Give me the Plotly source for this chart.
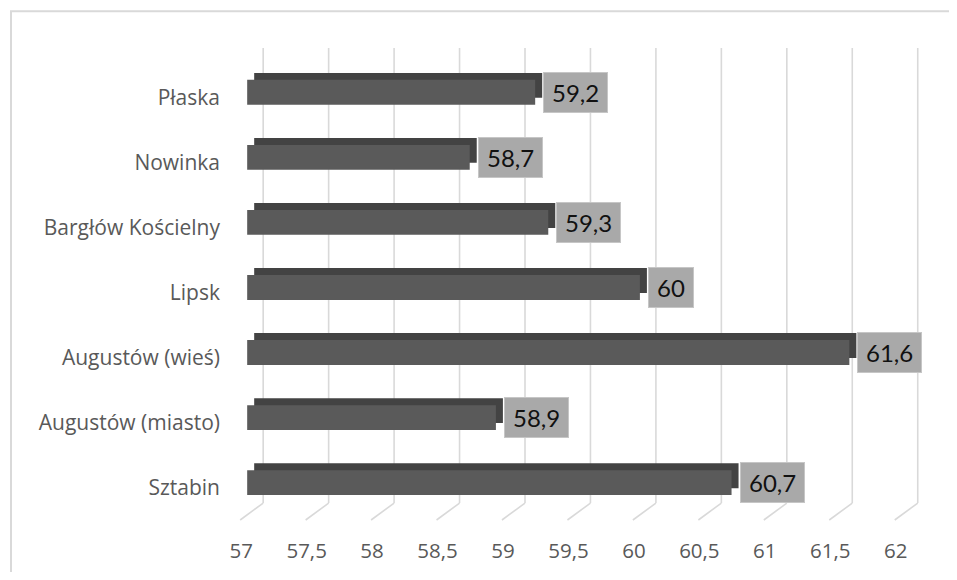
import plotly.graph_objects as go

categories = ["Sztabin", "Augustów (miasto)", "Augustów (wieś)", "Lipsk",
              "Bargłów Kościelny", "Nowinka", "Płaska"]
values = [60.7, 58.9, 61.6, 60.0, 59.3, 58.7, 59.2]
tick_vals = [57, 57.5, 58, 58.5, 59, 59.5, 60, 60.5, 61, 61.5, 62]
tick_text = ["57", "57,5", "58", "58,5", "59", "59,5", "60", "60,5", "61", "61,5", "62"]
base_value = 57

OFF = 8  # default body margin of the page
W, H = 957 - 2 * OFF, 580 - 2 * OFF
ML, MR, MT, MB = 213, 8, 40, 50
PW, PH = W - ML - MR, H - MT - MB
xr = [56.8, 62.3]
yr = [-0.574, 6.681]
kx = PW / (xr[1] - xr[0])
ky = PH / (yr[1] - yr[0])
dpx = 7  # 3D depth offset in pixels


def fmt(v):
    return ("%g" % v).replace(".", ",")


def px2paper_x(page_px):
    return (page_px - OFF - ML) / PW


def px2paper_y(page_py):
    return (MT + PH - (page_py - OFF)) / PH


fig = go.Figure()

# back (depth) bars -> top & side faces
fig.add_trace(go.Bar(
    y=categories, x=[v - base_value for v in values], base=base_value,
    orientation="h", width=25 / ky, marker=dict(color="#434343", line=dict(width=0)),
    xaxis="x", yaxis="y", hoverinfo="skip", showlegend=False))

# front bars
fig.add_trace(go.Bar(
    y=categories, x=[v - base_value for v in values], base=base_value,
    orientation="h", width=25 / ky, marker=dict(color="#5a5a5a", line=dict(width=0)),
    xaxis="x2", yaxis="y2", showlegend=False,
    customdata=values, hovertemplate="%{y}: %{customdata}<extra></extra>"))

shapes = []
y505 = px2paper_y(505)
for v in tick_vals:
    shapes.append(dict(type="line", xref="x2", yref="paper", xsizemode="pixel", xanchor=v,
                       x0=16, x1=16, y0=y505, y1=1, line=dict(color="#d9d9d9", width=1.6),
                       layer="below"))
    shapes.append(dict(type="line", xref="x2", yref="paper", xsizemode="pixel", xanchor=v,
                       x0=16, x1=-7, y0=y505, y1=0, line=dict(color="#d9d9d9", width=1.6),
                       layer="below"))

# chart border
shapes.append(dict(type="path", xref="paper", yref="paper",
                   path="M %f,%f L %f,%f L %f,%f" % (
                       px2paper_x(11), px2paper_y(600), px2paper_x(11), px2paper_y(11),
                       px2paper_x(990), px2paper_y(11)),
                   line=dict(color="#d9d9d9", width=2)))

annotations = []
for c, v in zip(categories, values):
    annotations.append(dict(
        x=v, y=c, xref="x2", yref="y2", xanchor="left", yanchor="middle",
        xshift=dpx + 1, text="\u2009" + fmt(v) + "\u2009", showarrow=False,
        font=dict(family="Lato", size=24, color="#111111"),
        bgcolor="#a9a9a9", bordercolor="#c6c6c6", borderwidth=1, borderpad=5))

fig.update_layout(
    width=W, height=H,
    margin=dict(l=ML, r=MR, t=MT, b=MB, pad=0),
    paper_bgcolor="white", plot_bgcolor="rgba(0,0,0,0)",
    barmode="overlay",
    font=dict(family="Open Sans", color="#595959"),
    xaxis=dict(range=[xr[0] - dpx / kx, xr[1] - dpx / kx], visible=False, fixedrange=True),
    yaxis=dict(range=[yr[0] - dpx / ky, yr[1] - dpx / ky], visible=False,
               type="category", categoryorder="array", categoryarray=categories, fixedrange=True),
    xaxis2=dict(range=xr, overlaying="x", side="bottom", showgrid=False, zeroline=False,
                showline=False, tickvals=tick_vals, ticktext=tick_text,
                ticks="outside", ticklen=12, tickcolor="rgba(0,0,0,0)",
                ticklabelshift=-6,
                tickfont=dict(family="Open Sans", size=20.5, color="#595959")),
    yaxis2=dict(range=yr, overlaying="y", side="left", type="category",
                categoryorder="array", categoryarray=categories,
                showgrid=False, zeroline=False, showline=False,
                ticks="", ticklabelshift=5,
                tickfont=dict(family="Open Sans", size=21, color="#595959")),
    shapes=shapes, annotations=annotations,
)

fig.write_html("out.html")
